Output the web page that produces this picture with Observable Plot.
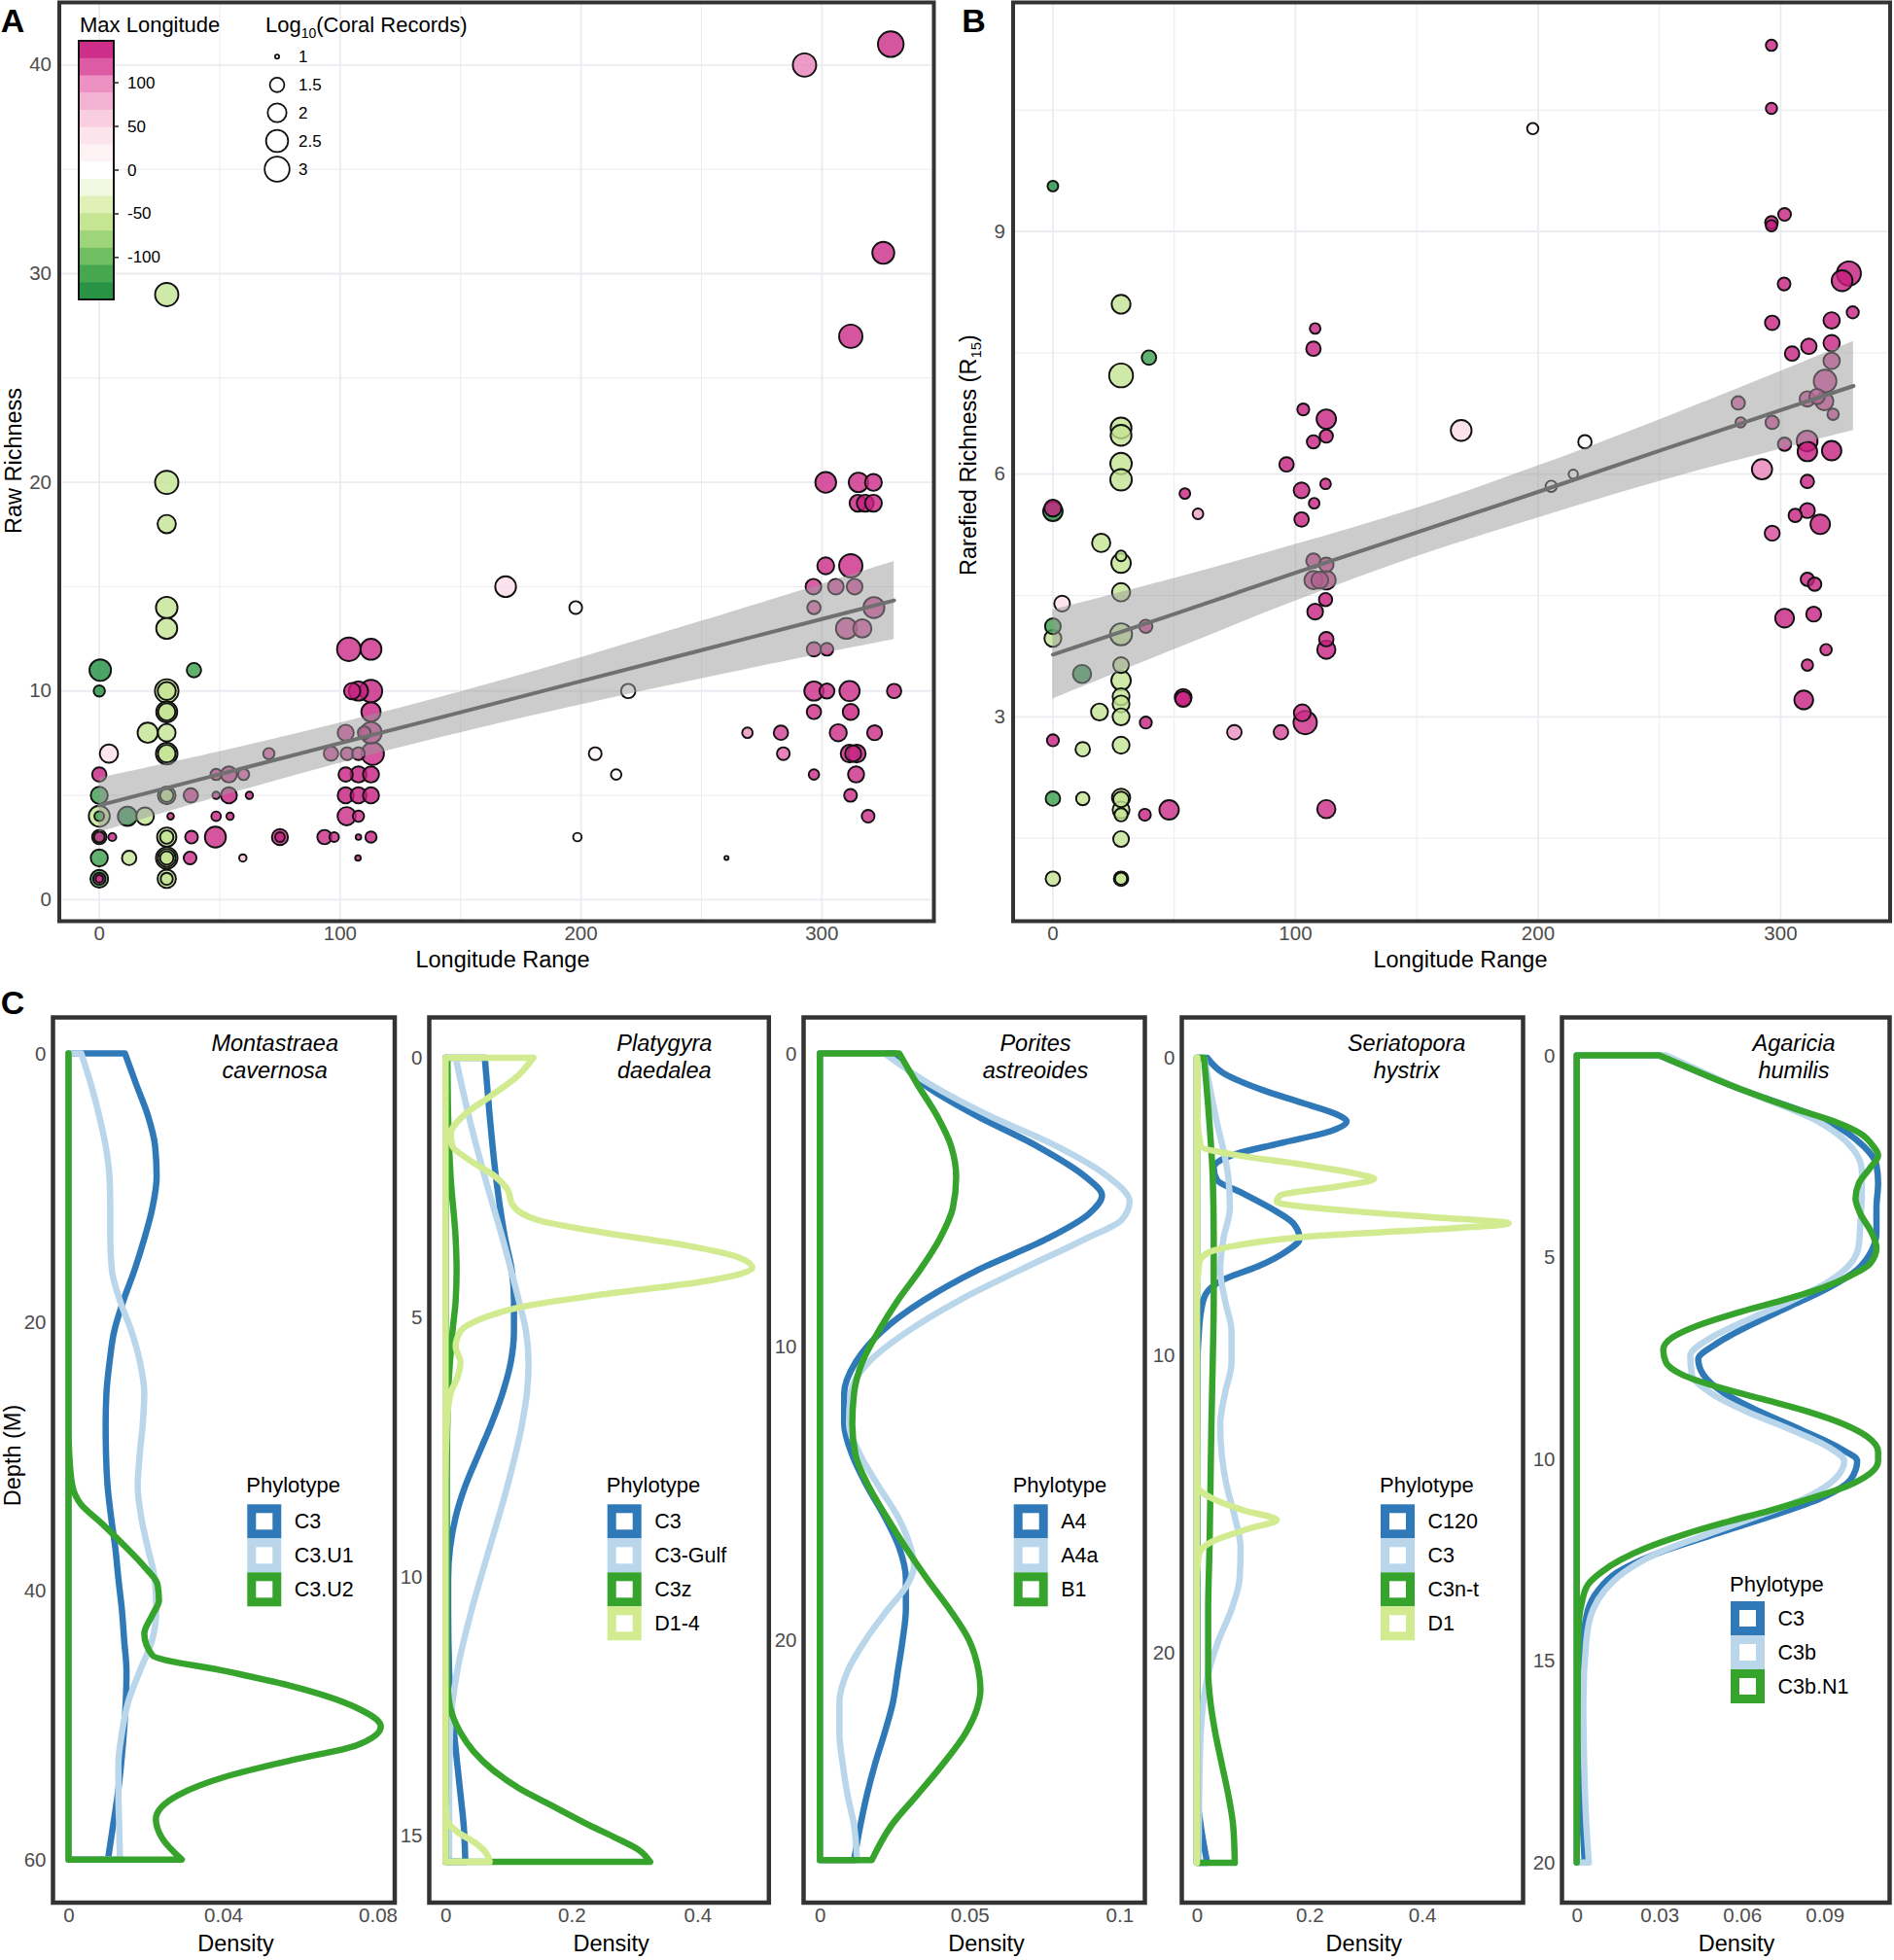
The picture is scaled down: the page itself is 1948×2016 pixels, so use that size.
<!DOCTYPE html>
<html><head><meta charset="utf-8">
<script src="https://cdn.jsdelivr.net/npm/d3@7"></script>
<script src="https://cdn.jsdelivr.net/npm/@observablehq/plot@0.6"></script>
<style>
body{margin:0;background:#fff;}
#root{position:relative;width:1948px;height:2016px;overflow:hidden;background:#fff;}
.pl{position:absolute;}
</style></head><body><div id="root"></div>
<script>
// ---------------- Panel A data ----------------
const lonA = [0.4,0,0,0,0,0,0,0,5.4,0,0,0,0,4,11.7,19,12.4,20.1,39.3,
  28,28,28,28,28,28,28,28,28,28,28,28,28,28,29.6,28,28,28,28,28,28,28,
  38.3,37.7,48.2,59.6,38,48.5,53.8,62.3,48.5,53.8,59.9,70.4,48.5,54.3,75,75,
  93.5,97.5,107.6,112.8,107.4,102.7,107.6,102.3,107.6,112.8,102.3,107.6,112.8,96.2,102.9,107.6,113.5,102.3,110,112.8,112.8,107.6,105,112.8,103.6,112.8,
  168.7,197.8,219.6,205.9,214.6,198.5,260.4,
  269.1,283,284,296.7,311.9,319.2,314.2,311.5,314.5,313,306.8,321.9,296.7,312,296.7,302.1,311.5,330,296.7,302.1,310.2,316.8,296.7,321.6,296.5,305.8,313.6,301.6,312,301.6,315.2,321.4,315,318,321.4,312,325.5,292.8,328.6];
const richA = [11,10,6,5,4,4,3,3,3,2,1,1,1,7,4,4,2,8,11,
  29,20,18,14,13,10,10,9,9,8,7,7,5,5,4,3,3,2,2,2,1,1,
  3,2,3,2,5,5,5,5,6,6,6,7,4,4,3,3,
  3,3,3,3,2,4,4,5,5,5,6,6,6,7,7,7,7,8,8,8,9,10,10,10,12,12,
  15,14,10,7,6,3,2,
  8,8,7,6,5,4,6,7,7,7,8,8,9,9,10,10,10,10,12,12,13,13,14,14,15,15,15,16,16,20,20,20,19,19,19,27,31,40,41];
const maxLonA = [-145,-145,145,-125,-60,-125,-145,135,145,-125,-125,145,135,45,-145,-60,-60,-60,-125,
  -60,-60,-60,-60,-60,-60,-60,-60,-60,-60,-60,-60,-60,-60,145,-60,-60,-60,-60,-60,-60,-60,
  140,140,140,70,140,140,145,145,140,140,125,125,145,145,145,145,
  140,140,145,145,145,140,140,147,147,147,145,147,147,135,135,135,140,135,135,140,145,147,147,145,140,140,
  50,8,8,15,8,5,70,
  100,130,115,140,140,140,140,145,147,140,140,140,140,148,140,140,140,140,135,140,130,130,125,135,135,135,135,140,140,140,140,140,145,145,145,140,140,105,140];
const logRecA = [2.41,1.24,1.49,1.78,2.32,1.15,1.49,1.2,1.07,1.78,1.86,1.3,1.05,1.93,2.06,1.86,1.49,2.2,1.49,
  2.7,2.7,1.93,2.41,2.32,2.75,1.9,2.32,1.8,1.86,2.41,1.85,1.86,1.4,1.03,2.06,1.4,2.41,1.86,1.4,1.93,1.3,
  1.35,1.35,2.32,1.05,1.49,1.05,1.67,1.05,1.24,1.67,1.24,1.24,1.14,1.05,1.67,1.14,
  1.49,1.14,1.01,1.24,1.01,1.93,1.24,1.67,1.67,1.67,1.49,1.67,1.67,1.49,1.35,1.35,2.57,1.67,1.35,2.41,2.06,2.06,1.7,2.57,2.75,2.32,
  2.29,1.35,1.49,1.35,1.19,1.09,1.0,
  1.19,1.49,1.35,1.19,1.35,1.35,1.67,1.86,1.86,1.67,1.78,1.55,1.49,1.67,2.06,1.55,2.2,1.49,1.49,1.35,2.32,1.93,1.4,2.32,1.63,1.63,1.63,1.76,2.71,2.29,2.09,1.76,1.76,1.76,1.76,2.71,2.48,2.71,3.15];
// regression line and 95% band
const fitAx  = [0, 50, 100, 150, 200, 250, 300, 330];
const fitAy  = [4.52, 6.01, 7.50, 8.98, 10.47, 11.96, 13.45, 14.34];
const fitAlo = [3.22, 4.93, 6.54, 8.00, 9.34, 10.58, 11.78, 12.47];
const fitAhi = [5.82, 7.09, 8.46, 9.96, 11.60, 13.34, 15.12, 16.21];

// ---------------- Panel B data ----------------
const lonB = [0,0,0,3.8,0,0,0,0,0,12,12.3,12.3,19.9,19.2,
  28.1,28.1,28.1,28.1,28.1,28.1,28.1,28.1,28.1,28.1,28.1,28.1,28.1,28.1,28.1,28.1,28.1,28.1,28.1,28.1,28.1,28.1,28.1,
  39.6,38.3,38.3,37.9,47.9,53.7,53.7,54.4,59.8,74.8,94,102.8,104,112.7,108.1,107.4,103.2,112.7,112.7,107.4,96.3,112.4,102.5,107.7,102.5,107.4,112.7,107.4,110,112.7,112.4,108.1,112.7,112.7,
  168.3,197.8,219.3,214.5,205.4,
  282.5,283.5,296.5,301.6,292.3,310.9,311,321,311,306,311,316.3,296.5,311,314,301.6,313.6,318.7,311,309.5,329.7,321,296.5,304.7,311.6,321,321,318.3,321.6,311,315,318,296.2,296.2,301.6,296.2,296.2,328.1,325.3,301.4];
const rarB = [9.56,5.58,5.54,4.40,4.12,3.97,2.71,1.99,1.0,3.53,2.60,1.99,5.15,3.06,
  8.10,7.22,6.57,6.48,6.13,5.93,4.99,4.90,4.54,4.02,3.64,3.45,3.25,3.16,3.0,2.65,2.0,1.98,1.85,1.79,1.49,1.0,1.0,
  7.44,4.12,2.93,1.79,1.85,3.24,3.22,5.76,5.51,2.81,2.81,3.05,2.93,1.86,7.80,7.55,6.80,6.68,6.47,6.40,6.12,5.88,5.80,5.64,5.44,4.93,4.88,4.69,4.69,4.69,4.45,4.30,3.96,3.83,
  6.54,10.27,6.40,6.0,5.85,
  6.88,6.64,6.64,6.37,6.06,6.41,6.28,6.29,5.91,5.49,5.55,5.38,5.27,4.70,4.64,4.22,4.27,3.83,3.64,3.21,8.0,7.90,7.87,7.49,7.58,7.62,7.40,7.15,6.74,6.93,6.96,6.90,11.30,10.52,9.21,9.11,9.07,8.48,8.39,8.35];
const maxLonB = [-145,145,-145,45,-125,-60,145,-125,-60,-145,-60,-60,-60,-60,
  -60,-60,-60,-60,-60,-60,-60,-60,-60,-60,-60,-60,-60,-60,-60,-60,-60,-60,-60,-60,-60,-60,-60,
  -125,140,145,145,140,148,145,145,90,100,125,140,140,140,145,145,145,145,148,145,145,145,145,145,145,140,140,140,140,140,148,145,145,145,
  50,10,8,8,8,
  125,125,135,135,105,135,147,145,145,145,145,145,125,145,145,145,145,145,145,145,145,148,145,145,145,145,135,135,135,135,135,135,145,145,145,148,147,147,147,145];
const logRecB = [1.2,1.75,2.09,1.63,1.63,1.76,1.29,1.5,1.5,1.93,1.5,1.39,1.93,1.76,
  2.0,2.8,2.3,2.3,2.4,2.4,1.2,2.09,1.93,2.48,1.63,2.09,1.76,1.76,1.76,1.76,1.93,1.6,1.76,1.39,1.63,1.5,1.3,
  1.5,1.39,1.29,1.29,2.09,1.76,1.63,1.2,1.2,1.5,1.5,1.76,2.71,1.93,1.2,1.5,1.29,2.09,1.39,1.39,1.5,1.2,1.63,1.2,1.5,1.5,1.5,1.93,1.76,2.0,1.39,1.63,1.5,1.93,
  2.29,1.24,1.4,1.12,1.24,
  1.4,1.18,1.4,1.4,2.2,2.3,2.1,2.09,1.4,1.4,1.55,2.1,1.55,1.4,1.4,2.0,1.55,1.25,1.25,2.0,1.3,1.7,1.5,1.5,1.6,1.7,1.7,2.6,1.25,1.6,1.6,1.9,1.24,1.24,1.35,1.35,1.24,2.85,2.3,1.35];
const fitBx  = [0, 50, 100, 150, 200, 250, 300, 330];
const fitBy  = [3.77, 4.27, 4.78, 5.28, 5.78, 6.29, 6.79, 7.09];
const fitBlo = [3.22, 3.83, 4.43, 4.98, 5.46, 5.91, 6.31, 6.54];
const fitBhi = [4.32, 4.71, 5.13, 5.58, 6.10, 6.67, 7.27, 7.64];

// colour bar / size legend values
const colorStops = [-148,-125,-100,-75,-50,-25,0,25,50,75,100,125,148];
const colorRange = ["#1b8a3e","#3a9f4b","#6cbd5f","#a9d97f","#d5ec9e","#eff7da","#ffffff","#fdf0f2","#fbdbe8","#f5b8d5","#ec8fc0","#d6489a","#c51b7d"];
const colorTicks = [100, 50, 0, -50, -100];
const sizeTicks = [1, 1.5, 2, 2.5, 3];
const ticksXAB = [0, 100, 200, 300];
const minorXAB = [50, 150, 250];
const ticksYA = [0, 10, 20, 30, 40];
const minorYA = [5, 15, 25, 35];
const ticksYB = [3, 6, 9];
const minorYB = [1.5, 4.5, 7.5, 10.5];

// ---------------- Panel C data: [depth, density] ----------------
const mcavC3 = [[0,0.0146],[2.3,0.0175],[4.6,0.0205],[6.9,0.0224],[9.2,0.0228],[11.5,0.0217],[13.8,0.0196],[16.1,0.0171],[18.4,0.0142],[20.7,0.0118],[23,0.0106],[25.3,0.0098],[27.6,0.0096],[29.9,0.0097],[32.2,0.0101],[34.5,0.011],[36.8,0.0121],[39.1,0.0129],[41.4,0.0138],[43.7,0.0144],[46,0.015],[48.3,0.0148],[50.6,0.0143],[52.9,0.0136],[55.2,0.0127],[57.5,0.0115],[60,0.0102]];
const mcavC3U1 = [[0,0.0033],[2.3,0.0058],[4.6,0.0079],[6.9,0.0096],[9.2,0.0106],[11.5,0.0108],[13.8,0.0108],[16.1,0.0112],[18.4,0.0133],[20.7,0.0163],[23,0.0185],[25.3,0.0196],[27.6,0.0192],[29.9,0.0184],[32.2,0.0179],[34.5,0.0188],[36.8,0.0205],[39.1,0.0223],[41.4,0.0227],[43.7,0.0216],[46,0.0184],[48.3,0.0154],[50.6,0.0138],[52.9,0.0129],[55.2,0.0129],[57.5,0.0131],[60,0.0133]];
const mcavC3U2 = [[0,0],[20,0],[28,0],[29.9,0.0002],[32.2,0.001],[33.6,0.0033],[34.9,0.0083],[36.8,0.015],[38.2,0.0196],[39.5,0.023],[40.7,0.0234],[41.8,0.0217],[43.2,0.0196],[44.8,0.0217],[46,0.041],[47.1,0.0578],[48.7,0.0745],[50.1,0.0808],[51.5,0.0745],[52.6,0.0578],[53.8,0.041],[55.2,0.0284],[57,0.0226],[58.4,0.0242],[60,0.0293]];

const pdaeC3 = [[0,0.0623],[1.11,0.07],[2.3,0.08],[3.49,0.0947],[4.08,0.105],[4.68,0.1086],[5.27,0.1086],[5.87,0.1035],[6.46,0.0906],[7.06,0.0726],[7.65,0.052],[8.25,0.0314],[8.85,0.016],[9.44,0.0072],[10.04,0.0041],[10.63,0.0041],[11.82,0.0057],[12.42,0.0082],[13.01,0.0134],[13.61,0.0185],[14.2,0.0237],[14.8,0.0288],[15.5,0.0314]];
const pdaeC3Gulf = [[0,0.016],[1.11,0.0366],[2.3,0.0623],[3.49,0.0906],[4.68,0.1163],[5.27,0.1277],[5.87,0.1318],[6.46,0.1292],[7.06,0.1215],[8.25,0.0983],[9.44,0.07],[10.63,0.0417],[11.82,0.0185],[13.01,0.0072],[14.2,0.0057],[15.5,0.0057]];
const pdaeC3z = [[0,0.003],[1.11,0.004],[2.3,0.008],[3.49,0.016],[4.08,0.0175],[4.68,0.016],[5.27,0.011],[5.87,0.007],[6.46,0.004],[8,0.002],[10,0.002],[11.8,0.002],[12.42,0.0057],[13.01,0.0237],[13.37,0.0443],[13.73,0.0752],[14.08,0.1163],[14.44,0.173],[14.8,0.2296],[15.04,0.2708],[15.27,0.307],[15.5,0.325]];
const pdaeD14 = [[0,0.1395],[0.39,0.111],[0.75,0.07],[1.11,0.0288],[1.46,0.0082],[1.7,0.0108],[1.94,0.034],[2.3,0.08],[2.54,0.0983],[2.83,0.106],[3.13,0.147],[3.37,0.25],[3.61,0.379],[3.85,0.466],[4.05,0.487],[4.32,0.405],[4.56,0.25],[4.8,0.1215],[5.04,0.0546],[5.27,0.0237],[5.57,0.016],[5.87,0.0237],[6.17,0.0185],[6.46,0.0082],[7.06,0.002],[8.25,0],[14.2,0],[14.68,0.002],[14.92,0.0185],[15.15,0.049],[15.39,0.0674],[15.5,0.07]];

const pastA4 = [[0,0.0249],[1.05,0.0346],[2.11,0.052],[3.16,0.0725],[4.21,0.0887],[4.84,0.0942],[5.47,0.0898],[6.32,0.0758],[7.37,0.053],[8.42,0.0346],[9.48,0.0206],[10.53,0.0119],[11.58,0.0081],[12.63,0.0081],[13.69,0.0108],[14.74,0.0157],[15.79,0.0216],[16.85,0.0265],[17.9,0.0287],[18.95,0.0287],[20,0.0276],[21.06,0.026],[22.11,0.0244],[23.16,0.0216],[24.22,0.0184],[25.27,0.0157],[26.32,0.0135],[27.5,0.0114]];
const pastA4a = [[0,0.0216],[1.05,0.0368],[2.11,0.0563],[3.16,0.079],[4.21,0.0963],[5.05,0.1034],[5.69,0.1006],[6.32,0.0887],[7.37,0.0671],[8.42,0.0465],[9.48,0.0292],[10.53,0.0162],[11.58,0.0103],[12.63,0.0097],[13.69,0.0135],[14.74,0.0195],[15.79,0.026],[16.85,0.0303],[17.48,0.0314],[18.11,0.0292],[18.95,0.0227],[20,0.0152],[21.06,0.0092],[22.11,0.0065],[23.16,0.0065],[24.22,0.0076],[25.27,0.0092],[26.32,0.0114],[27.5,0.0124]];
const pastB1 = [[0,0.0265],[1.05,0.0325],[2.11,0.039],[3.16,0.0438],[4.21,0.0455],[5.26,0.0444],[6.32,0.04],[7.37,0.0335],[8.42,0.026],[9.48,0.0195],[10.53,0.0141],[11.58,0.0114],[12.63,0.0108],[13.69,0.0119],[14.74,0.0162],[15.79,0.0222],[16.85,0.0287],[17.9,0.0357],[18.95,0.0433],[20,0.0498],[21.06,0.053],[21.69,0.0536],[22.32,0.0525],[23.16,0.0487],[24.22,0.0411],[25.27,0.0325],[26.32,0.0238],[27.5,0.0173]];

const shysC120 = [[0,0.0184],[0.48,0.0443],[1.1,0.119],[1.52,0.188],[1.93,0.2516],[2.14,0.266],[2.45,0.24],[2.87,0.148],[3.28,0.0616],[3.7,0.03],[4.11,0.0357],[4.53,0.0789],[5.05,0.1307],[5.56,0.171],[6.08,0.1825],[6.5,0.1595],[7.02,0.1077],[7.43,0.0501],[7.95,0.0155],[8.58,0.0069],[9.41,0.003],[10.24,0.001],[24.77,0.001],[25.81,0.0069],[27.06,0.0184]];
const shysC3 = [[0,0.0127],[1.93,0.0328],[4.01,0.0558],[5.05,0.0587],[6.08,0.0472],[7.12,0.0415],[8.16,0.0501],[9.2,0.0616],[10.24,0.0616],[11.27,0.0501],[12.31,0.0415],[13.35,0.0443],[14.39,0.053],[15.43,0.0674],[16.47,0.0777],[17.5,0.076],[18.54,0.0616],[19.58,0.0386],[20.62,0.0213],[21.66,0.0115],[22.7,0.0069],[24.77,0.004],[27.06,0.003]];
const shysC3nt = [[0,0.0127],[1.93,0.0213],[4.01,0.0282],[6.08,0.03],[8.16,0.03],[10.24,0.0282],[12.31,0.0259],[14.39,0.0242],[16.47,0.0225],[18.54,0.0201],[20.62,0.0201],[21.66,0.0242],[22.7,0.0328],[23.74,0.0443],[24.77,0.0558],[25.81,0.0645],[27.06,0.0674]];
const shysD1 = [[0,0.001],[1.93,0.001],[2.97,0.0069],[3.28,0.073],[3.59,0.188],[3.91,0.286],[4.07,0.315],[4.32,0.2516],[4.63,0.148],[4.84,0.142],[5.15,0.2746],[5.36,0.4185],[5.56,0.554],[5.77,0.4185],[5.98,0.217],[6.3,0.073],[6.6,0.0155],[6.91,0.004],[8.16,0],[14.39,0.001],[14.81,0.027],[15.22,0.0846],[15.53,0.142],[15.84,0.09],[16.26,0.027],[16.67,0.004],[17.5,0],[27.06,0]];

const ahumC3 = [[0,0.03],[0.87,0.0606],[1.64,0.0912],[2.25,0.1041],[2.71,0.1088],[3.17,0.1094],[3.78,0.1088],[4.39,0.1088],[4.85,0.107],[5.31,0.1018],[5.77,0.0912],[6.23,0.0771],[6.69,0.0629],[7.15,0.0506],[7.53,0.0441],[7.91,0.0459],[8.37,0.0535],[8.83,0.0665],[9.29,0.0818],[9.75,0.0959],[10.05,0.1018],[10.51,0.0994],[10.97,0.0888],[11.43,0.07],[11.89,0.0488],[12.35,0.0288],[12.81,0.0147],[13.27,0.0076],[13.73,0.0041],[14.49,0.0024],[16.02,0.0015],[18.32,0.0018],[20,0.0029]];
const ahumC3b = [[0,0.0324],[0.87,0.0606],[1.64,0.0876],[2.25,0.0994],[2.86,0.1035],[3.47,0.1035],[4.09,0.103],[4.7,0.1024],[5.16,0.0994],[5.62,0.0912],[6.07,0.0782],[6.53,0.0629],[6.99,0.0488],[7.45,0.0412],[7.91,0.0418],[8.37,0.0488],[8.83,0.0618],[9.29,0.0782],[9.75,0.0924],[10.05,0.0971],[10.51,0.0935],[10.97,0.0829],[11.43,0.0653],[11.89,0.0465],[12.35,0.0288],[12.81,0.0171],[13.27,0.01],[13.73,0.0059],[14.49,0.0035],[16.02,0.0024],[17.55,0.0027],[19.08,0.0035],[20,0.0044]];
const ahumC3bN1 = [[0,0.03],[0.41,0.0441],[0.87,0.0606],[1.33,0.0794],[1.64,0.0935],[1.94,0.103],[2.25,0.1076],[2.48,0.1094],[2.79,0.1065],[3.17,0.1024],[3.55,0.1012],[3.93,0.103],[4.39,0.107],[4.77,0.1088],[5.16,0.1065],[5.46,0.0994],[5.77,0.0888],[6.07,0.0747],[6.38,0.0582],[6.69,0.0441],[6.99,0.0347],[7.3,0.0314],[7.61,0.0324],[7.91,0.0382],[8.22,0.0512],[8.52,0.0676],[8.83,0.0841],[9.14,0.097],[9.44,0.1053],[9.82,0.1094],[10.05,0.1094],[10.36,0.1065],[10.67,0.0982],[10.97,0.0853],[11.28,0.07],[11.58,0.0535],[11.89,0.0382],[12.2,0.0253],[12.5,0.0159],[12.81,0.0088],[13.11,0.0041],[13.57,0.0018],[14.03,0.0008],[15.26,0.0004],[20,0]];

const phyloColors = ["#2f79b9", "#b9d6ea", "#36a42c", "#d2eb91"];

// ---------------- rendering ----------------
const FONT = '"Liberation Sans", Arial, Helvetica, sans-serif';
const root = document.getElementById("root");
function place(node, left, top, w, h) {
  const d = document.createElement("div");
  d.className = "pl";
  d.style.left = left + "px"; d.style.top = top + "px";
  d.style.width = w + "px"; d.style.height = h + "px";
  d.appendChild(node); root.appendChild(d);
}
const baseStyle = {background: "transparent", fontFamily: FONT, fontSize: "20.5px", color: "#4d4d4d", maxWidth: "none", overflow: "visible"};
const GRID = "#ebebf1";
const colorOpts = {type: "linear", domain: colorStops, range: colorRange};
const rOpts = {type: "linear", domain: [0, Math.SQRT2], range: [2.1, 12.8]};

function scatter(cfg) {
  const pts = cfg.xs.map((x, i) => ({x, y: cfg.ys[i], lon: cfg.lons[i], s: Math.sqrt(Math.max(0, cfg.logs[i] - 1))}));
  const fit = cfg.fx.map((x, i) => ({x, y: cfg.fy[i], lo: cfg.flo[i], hi: cfg.fhi[i]}));
  const fmt = d => String(d);
  return Plot.plot({
    width: cfg.width, height: cfg.height,
    marginLeft: cfg.ml, marginRight: cfg.mr, marginTop: cfg.mt, marginBottom: cfg.mb,
    style: baseStyle,
    x: {domain: cfg.xDomain},
    y: {domain: cfg.yDomain},
    color: colorOpts,
    r: rOpts,
    marks: [
      Plot.gridX({ticks: minorXAB, stroke: GRID, strokeOpacity: 1, strokeWidth: 1}),
      Plot.gridX({ticks: ticksXAB, stroke: GRID, strokeOpacity: 1, strokeWidth: 1.8}),
      Plot.gridY({ticks: cfg.minorY, stroke: GRID, strokeOpacity: 1, strokeWidth: 1}),
      Plot.gridY({ticks: cfg.ticksY, stroke: GRID, strokeOpacity: 1, strokeWidth: 1.8}),
      Plot.dot(pts, {x: "x", y: "y", r: "s", fill: "lon", stroke: "#111", strokeWidth: 1.9, fillOpacity: 0.8}),
      Plot.areaY(fit, {x: "x", y1: "lo", y2: "hi", fill: "#999999", fillOpacity: 0.5, curve: "catmull-rom"}),
      Plot.line(fit, {x: "x", y: "y", stroke: "#707070", strokeWidth: 4}),
      Plot.axisX({ticks: ticksXAB, tickFormat: fmt, tickSize: 0, tickPadding: 5, label: null}),
      Plot.axisY({ticks: cfg.ticksY, tickFormat: fmt, tickSize: 0, tickPadding: 8, label: null}),
      Plot.frame({stroke: "#333", strokeWidth: 4})
    ]
  });
}

// Panel A : frame x 60.5..960, y 2..947
place(scatter({width: 980, height: 1010, ml: 60.5, mr: 20, mt: 2, mb: 63,
  xs: lonA, ys: richA, lons: maxLonA, logs: logRecA,
  fx: fitAx, fy: fitAy, flo: fitAlo, fhi: fitAhi,
  xDomain: [-16.6, 346.5], yDomain: [-1.03, 43.0], ticksY: ticksYA, minorY: minorYA}), 0, 0, 980, 1010);

// Panel B : frame x 1041.5..1943.5
place(scatter({width: 946.5, height: 1010, ml: 44.5, mr: 0, mt: 2, mb: 63,
  xs: lonB, ys: rarB, lons: maxLonB, logs: logRecB,
  fx: fitBx, fy: fitBy, flo: fitBlo, fhi: fitBhi,
  xDomain: [-16.4, 345.1], yDomain: [0.475, 11.83], ticksY: ticksYB, minorY: minorYB}), 997, 0, 946.5, 1010);

// Panel C
const panelsC = [
  {frameL: 53.8, frameR: 405.3, xDomain: [-0.00415, 0.08428], yDomain: [-2.71, 63.17], xTicks: [0, 0.04, 0.08], yTicks: [0, 20, 40, 60],
   series: [mcavC3, mcavC3U1, mcavC3U2], colors: [0, 1, 2]},
  {frameL: 440.7, frameR: 790, xDomain: [-0.0267, 0.5127], yDomain: [-0.787, 16.276], xTicks: [0, 0.2, 0.4], yTicks: [0, 5, 10, 15],
   series: [pdaeC3, pdaeC3Gulf, pdaeC3z, pdaeD14], colors: [0, 1, 2, 3]},
  {frameL: 826, frameR: 1177, xDomain: [-0.00562, 0.10834], yDomain: [-1.243, 28.93], xTicks: [0, 0.05, 0.1], yTicks: [0, 10, 20],
   series: [pastA4, pastA4a, pastB1], colors: [0, 1, 2]},
  {frameL: 1215, frameR: 1566, xDomain: [-0.0276, 0.5786], yDomain: [-1.373, 28.38], xTicks: [0, 0.2, 0.4], yTicks: [0, 10, 20],
   series: [shysC120, shysC3, shysC3nt, shysD1], colors: [0, 1, 2, 3]},
  {frameL: 1606, frameR: 1943, xDomain: [-0.00554, 0.1134], yDomain: [-0.95, 20.98], xTicks: [0, 0.03, 0.06, 0.09], yTicks: [0, 5, 10, 15, 20],
   series: [ahumC3, ahumC3b, ahumC3bN1], colors: [0, 1, 2]}
];
for (const p of panelsC) {
  const ml = 60, mr = 4, top = 1000, mt = 46, mb = 2016 - 1956.5;
  const left = p.frameL - ml;
  const width = (p.frameR - p.frameL) + ml + mr;
  const height = 2016 - top;
  const marks = p.series.map((s, i) => Plot.areaX(s, {
    y: d => d[0], x1: () => 0, x2: d => d[1], fill: "none",
    stroke: phyloColors[p.colors[i]], strokeWidth: 6.5, curve: "monotone-y", strokeLinejoin: "round"
  }));
  marks.push(Plot.axisX({ticks: p.xTicks, tickFormat: d => String(d), tickSize: 0, tickPadding: 5, label: null}));
  marks.push(Plot.axisY({ticks: p.yTicks, tickFormat: d => String(d), tickSize: 0, tickPadding: 7, label: null}));
  marks.push(Plot.frame({stroke: "#333", strokeWidth: 4.5}));
  place(Plot.plot({
    width, height, marginLeft: ml, marginRight: mr, marginTop: mt, marginBottom: mb,
    style: baseStyle,
    x: {domain: p.xDomain}, y: {domain: p.yDomain, reverse: true},
    marks
  }), left, top, width, height);
}

// ---------------- overlay: titles and legends ----------------
const svg = d3.select(root).append("svg")
  .attr("width", 1948).attr("height", 2016)
  .style("position", "absolute").style("left", "0px").style("top", "0px")
  .style("font-family", FONT);
function txt(x, y, s, o = {}) {
  const t = svg.append("text").attr("x", x).attr("y", y)
    .attr("font-size", o.size || 22).attr("fill", o.fill || "#000")
    .attr("text-anchor", o.anchor || "start");
  if (s != null) t.text(s);
  if (o.weight) t.attr("font-weight", o.weight);
  if (o.italic) t.attr("font-style", "italic");
  if (o.rotate) t.attr("transform", `rotate(-90 ${x} ${y})`);
  if (o.baseline) t.attr("dominant-baseline", o.baseline);
  return t;
}
// panel letters
txt(13, 33, "A", {size: 34, weight: "bold", anchor: "middle"});
txt(1001.5, 33, "B", {size: 34, weight: "bold", anchor: "middle"});
txt(13, 1043, "C", {size: 34, weight: "bold", anchor: "middle"});
// axis titles
txt(22, 474, "Raw Richness", {size: 23.5, anchor: "middle", rotate: true});
txt(517, 995, "Longitude Range", {size: 23.5, anchor: "middle"});
txt(1502, 995, "Longitude Range", {size: 23.5, anchor: "middle"});
const rr = txt(1004, 468, null, {size: 23.5, anchor: "middle", rotate: true});
rr.append("tspan").text("Rarefied Richness (R");
rr.append("tspan").attr("font-size", 15).attr("dy", 5).text("15");
rr.append("tspan").attr("dy", -5).text(")");
txt(21, 1497, "Depth (M)", {size: 23.5, anchor: "middle", rotate: true});
[242.5, 628.7, 1014.5, 1402.8, 1786].forEach(x => txt(x, 2007, "Density", {size: 23.5, anchor: "middle"}));

// species names
const species = [["Montastraea", "cavernosa", 282.7], ["Platygyra", "daedalea", 683.3], ["Porites", "astreoides", 1065],
  ["Seriatopora", "hystrix", 1446.7], ["Agaricia", "humilis", 1845]];
for (const [a, b, x] of species) {
  txt(x, 1081, a, {size: 23.5, italic: true, anchor: "middle"});
  txt(x, 1109, b, {size: 23.5, italic: true, anchor: "middle"});
}

// phylotype legends
const legendsC = [
  {x: 254.3, top: 1547.3, titleY: 1535, labels: ["C3", "C3.U1", "C3.U2"], colors: [0, 1, 2]},
  {x: 624.7, top: 1547.3, titleY: 1535, labels: ["C3", "C3-Gulf", "C3z", "D1-4"], colors: [0, 1, 2, 3]},
  {x: 1042.7, top: 1547.3, titleY: 1535, labels: ["A4", "A4a", "B1"], colors: [0, 1, 2]},
  {x: 1420, top: 1547.3, titleY: 1535, labels: ["C120", "C3", "C3n-t", "D1"], colors: [0, 1, 2, 3]},
  {x: 1780, top: 1647, titleY: 1636.5, labels: ["C3", "C3b", "C3b.N1"], colors: [0, 1, 2]}
];
for (const L of legendsC) {
  txt(L.x - 1, L.titleY, "Phylotype", {size: 22});
  L.labels.forEach((lab, i) => {
    const y0 = L.top + i * 35;
    svg.append("rect").attr("x", L.x + 4.5).attr("y", y0 + 4.5).attr("width", 26).attr("height", 26)
      .attr("fill", "#fff").attr("stroke", phyloColors[L.colors[i]]).attr("stroke-width", 9);
    txt(L.x + 48.5, y0 + 17.5, lab, {size: 21.5, baseline: "central"});
  });
}

// panel A legends
const cScale = Plot.scale({color: colorOpts});
const rScale = Plot.scale({r: rOpts});
txt(82, 32.5, "Max Longitude", {size: 22});
const barTop = 42, barBot = 308, barL = 81, barW = 36, vMax = 148, vMin = -148, nb = 15;
const yOf = v => barTop + (vMax - v) / (vMax - vMin) * (barBot - barTop);
for (let i = 0; i < nb; i++) {
  const y0 = barTop + i * (barBot - barTop) / nb;
  const v = vMax - (i + 0.5) * (vMax - vMin) / nb;
  svg.append("rect").attr("x", barL).attr("y", y0).attr("width", barW).attr("height", (barBot - barTop) / nb + 0.6)
    .attr("fill", cScale.apply(v));
}
svg.append("rect").attr("x", barL).attr("y", barTop).attr("width", barW).attr("height", barBot - barTop)
  .attr("fill", "none").attr("stroke", "#111").attr("stroke-width", 2);
for (const v of colorTicks) {
  svg.append("line").attr("x1", barL + barW - 1).attr("x2", barL + barW + 5).attr("y1", yOf(v)).attr("y2", yOf(v))
    .attr("stroke", "#222").attr("stroke-width", 1.5);
  txt(131, yOf(v), String(v), {size: 17, baseline: "central"});
}
const lt = txt(273, 32.5, null, {size: 22});
lt.append("tspan").text("Log");
lt.append("tspan").attr("font-size", 14).attr("dy", 6).text("10");
lt.append("tspan").attr("dy", -6).text("(Coral Records)");
const sizeY = [58.3, 87.3, 116, 145, 174];
sizeTicks.forEach((v, i) => {
  svg.append("circle").attr("cx", 285).attr("cy", sizeY[i]).attr("r", rScale.apply(Math.sqrt(v - 1)))
    .attr("fill", "#fff").attr("stroke", "#111").attr("stroke-width", 1.8);
  txt(307, sizeY[i], String(v), {size: 17, baseline: "central"});
});
</script></body></html>
